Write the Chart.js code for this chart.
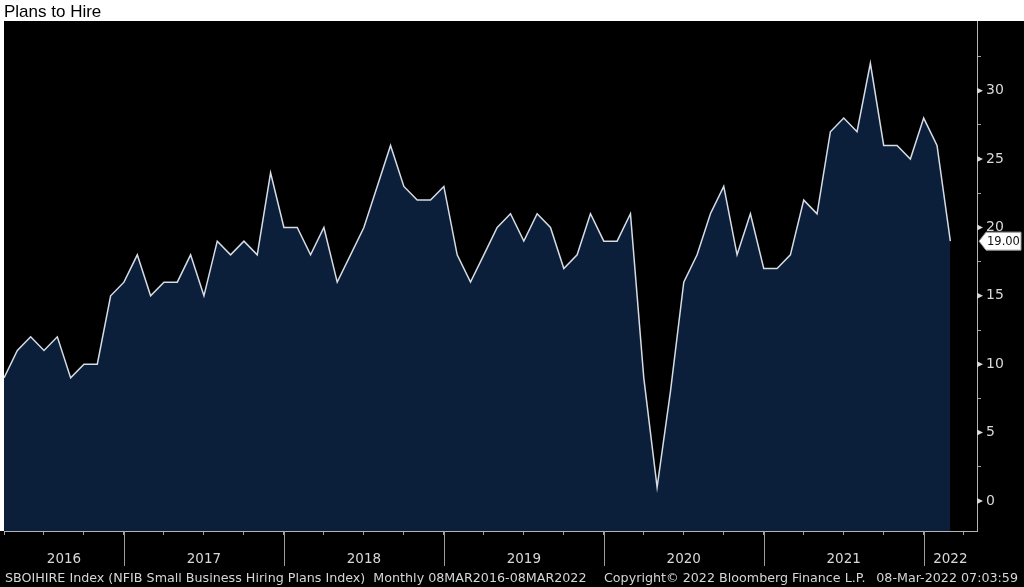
<!DOCTYPE html>
<html>
<head>
<meta charset="utf-8">
<script src="https://cdn.jsdelivr.net/npm/chart.js@4/dist/chart.umd.min.js"></script>
<style>
  html, body { margin: 0; padding: 0; background: #fff; }
  #wrap { position: relative; width: 1024px; height: 587px; overflow: hidden; }
  canvas { position: absolute; left: 0; top: 0; }
  .txt { position: absolute; white-space: nowrap; }
  #title { left: 4px; top: 3px; font-family: "Liberation Sans", Arial, sans-serif; font-size: 17px; line-height: 17px; color: #000; }
  .foot { top: 571px; font-family: "DejaVu Sans", sans-serif; font-size: 12.7px; line-height: 13px; color: #d6d6d6; }
</style>
</head>
<body>
<div id="wrap">
  <canvas id="c" width="1024" height="587"></canvas>
  <div id="title" class="txt">Plans to Hire</div>
  <div class="txt foot" style="left:5px">SBOIHIRE Index (NFIB Small Business Hiring Plans Index)&nbsp; Monthly 08MAR2016-08MAR2022</div>
  <div class="txt foot" style="left:604px">Copyright© 2022 Bloomberg Finance L.P.</div>
  <div class="txt foot" style="right:6px">08-Mar-2022 07:03:59</div>
</div>
<script>
// ---- data (monthly, Mar 2016 .. Feb 2022) ----
const months = [
  "Mar 2016","Apr 2016","May 2016","Jun 2016","Jul 2016","Aug 2016","Sep 2016","Oct 2016","Nov 2016","Dec 2016",
  "Jan 2017","Feb 2017","Mar 2017","Apr 2017","May 2017","Jun 2017","Jul 2017","Aug 2017","Sep 2017","Oct 2017","Nov 2017","Dec 2017",
  "Jan 2018","Feb 2018","Mar 2018","Apr 2018","May 2018","Jun 2018","Jul 2018","Aug 2018","Sep 2018","Oct 2018","Nov 2018","Dec 2018",
  "Jan 2019","Feb 2019","Mar 2019","Apr 2019","May 2019","Jun 2019","Jul 2019","Aug 2019","Sep 2019","Oct 2019","Nov 2019","Dec 2019",
  "Jan 2020","Feb 2020","Mar 2020","Apr 2020","May 2020","Jun 2020","Jul 2020","Aug 2020","Sep 2020","Oct 2020","Nov 2020","Dec 2020",
  "Jan 2021","Feb 2021","Mar 2021","Apr 2021","May 2021","Jun 2021","Jul 2021","Aug 2021","Sep 2021","Oct 2021","Nov 2021","Dec 2021",
  "Jan 2022","Feb 2022"
];
const hirePlans = [
  9,11,12,11,12,9,10,10,15,16,
  18,15,16,16,18,15,19,18,19,18,24,20,
  20,18,20,16,18,20,23,26,23,22,22,23,
  18,16,18,20,21,19,21,20,17,18,21,19,
  19,21,9,1,8,16,18,21,23,18,21,17,
  17,18,22,21,27,28,27,32,26,26,25,28,
  26,19
];
const yearLabels = ["2016","2017","2018","2019","2020","2021","2022"];
const yTickValues = [0,2.5,5,7.5,10,12.5,15,17.5,20,22.5,25,27.5,30,32.5,35];

// year boundaries: a December point closes its year
const yearBreaks = months.map((m, i) => m.startsWith("Dec") ? i : -1).filter(i => i >= 0);
const points = hirePlans.map((v, i) => ({ x: i, y: v }));

const decor = {
  id: 'decor',
  beforeDraw(chart) {
    const ctx = chart.ctx;
    ctx.save();
    ctx.fillStyle = '#ffffff';
    ctx.fillRect(0, 0, chart.width, chart.height);
    ctx.fillStyle = '#000000';
    ctx.fillRect(4, 21, chart.width - 4, chart.height - 21);
    ctx.fillRect(0, chart.chartArea.bottom, chart.width, chart.height - chart.chartArea.bottom);
    ctx.restore();
  },
  afterDraw(chart) {
    const ctx = chart.ctx, xs = chart.scales.x, ys = chart.scales.y, ca = chart.chartArea;
    ctx.save();
    // year separators
    ctx.strokeStyle = '#9c9c9c';
    ctx.lineWidth = 1;
    yearBreaks.forEach(b => {
      const px = Math.round(xs.getPixelForValue(b)) + 0.5;
      ctx.beginPath();
      ctx.moveTo(px, ca.bottom);
      ctx.lineTo(px, ca.bottom + 35);
      ctx.stroke();
    });
    // year labels
    const bounds = [xs.min, ...yearBreaks, xs.max];
    ctx.fillStyle = '#d8d8d8';
    ctx.font = '13.5px "DejaVu Sans", sans-serif';
    ctx.textAlign = 'center';
    ctx.textBaseline = 'alphabetic';
    yearLabels.forEach((lab, k) => {
      const c = (xs.getPixelForValue(bounds[k]) + xs.getPixelForValue(bounds[k + 1])) / 2;
      ctx.fillText(lab, c, 563);
    });
    // major tick pointers on right axis
    ctx.fillStyle = '#d8d8d8';
    yTickValues.filter(v => v % 5 === 0 && v <= 30).forEach(v => {
      const py = ys.getPixelForValue(v);
      ctx.beginPath();
      ctx.moveTo(ca.right, py - 3);
      ctx.lineTo(ca.right + 6, py);
      ctx.lineTo(ca.right, py + 3);
      ctx.closePath();
      ctx.fill();
    });
    // last value tag
    const last = hirePlans[hirePlans.length - 1];
    const ty = ys.getPixelForValue(last);
    const tx = ca.right + 2;
    ctx.beginPath();
    ctx.moveTo(tx, ty);
    ctx.lineTo(tx + 7, ty - 9);
    ctx.lineTo(1021, ty - 9);
    ctx.lineTo(1021, ty + 9);
    ctx.lineTo(tx + 7, ty + 9);
    ctx.closePath();
    ctx.fillStyle = '#ffffff';
    ctx.fill();
    ctx.strokeStyle = '#9a9a9a';
    ctx.stroke();
    ctx.fillStyle = '#111';
    ctx.font = '11.5px "DejaVu Sans", sans-serif';
    ctx.textAlign = 'left';
    ctx.textBaseline = 'middle';
    ctx.fillText(last.toFixed(2), tx + 8, ty + 1);
    ctx.restore();
  }
};

new Chart(document.getElementById('c'), {
  type: 'line',
  data: {
    datasets: [{
      label: 'Plans to Hire',
      data: points,
      borderColor: '#d6dce4',
      borderWidth: 1.5,
      backgroundColor: '#0b1e3a',
      fill: 'start',
      pointRadius: 0,
      tension: 0
    }]
  },
  options: {
    responsive: false,
    animation: false,
    events: [],
    layout: { padding: { left: 4, top: 21, right: 0, bottom: 0 } },
    plugins: { legend: { display: false }, tooltip: { enabled: false }, title: { display: false } },
    scales: {
      x: {
        type: 'linear',
        min: 0,
        max: 73,
        afterBuildTicks(scale) {
          const t = [];
          for (let v = 0; v <= 72; v += 3) t.push({ value: v });
          scale.ticks = t;
        },
        afterFit(scale) { scale.height = 56; },
        grid: { drawOnChartArea: false, drawTicks: true, tickLength: 4, color: '#a0a0a0' },
        border: { display: true, color: '#b4b4b4', width: 1 },
        ticks: { display: false }
      },
      y: {
        position: 'right',
        min: -2.2,
        max: 35.1,
        afterBuildTicks(scale) { scale.ticks = yTickValues.map(v => ({ value: v })); },
        afterFit(scale) { scale.width = 47; },
        grid: {
          drawOnChartArea: false, drawTicks: true, tickLength: 4,
          tickColor: c => (c.tick && c.tick.value % 5 === 0) ? 'rgba(0,0,0,0)' : '#a0a0a0'
        },
        border: { display: true, color: '#b4b4b4', width: 1 },
        ticks: {
          padding: 5,
          color: '#d8d8d8',
          font: { family: '"DejaVu Sans", sans-serif', size: 14 },
          callback: v => (v % 5 === 0 && v <= 30) ? String(v) : ''
        }
      }
    }
  },
  plugins: [decor]
});
</script>
</body>
</html>
